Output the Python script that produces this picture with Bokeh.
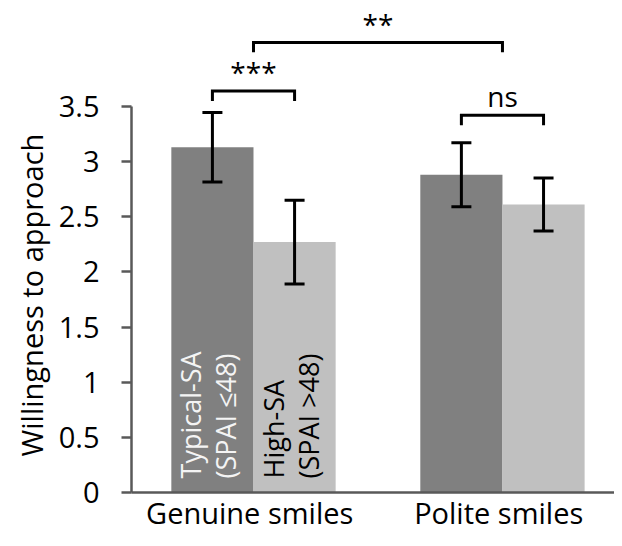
from math import pi
from bokeh.plotting import figure
from bokeh.models import (Range1d, FixedTicker, NumeralTickFormatter, ColumnDataSource,
                          Whisker, TeeHead, Title)
from bokeh.core.properties import value
from bokeh.embed import file_html
from bokeh.resources import INLINE

# ---------------- data ----------------
groups = ["Genuine  smiles", "Polite  smiles"]
typical_means = [3.13, 2.88]
typical_err = [0.315, 0.29]
high_means = [2.27, 2.61]
high_err = [0.38, 0.24]
series_labels = ["Typical-SA\n(SPAI \u226448)", "High-SA\n(SPAI >48)"]
y_ticks = [0, 0.5, 1, 1.5, 2, 2.5, 3, 3.5]
y_title = "Willingness to approach"
sig_labels = ["***", "ns", "**"]
sig_levels = [3.64, 3.42, 4.08]

FONT = "Open Sans"
DARK = "#808080"
LIGHT = "#c0c0c0"
AXIS = "#595959"

centers = [i + 0.5 for i in range(len(groups))]
off = 0.165
bw = 0.33
x_typ = [c - off for c in centers]
x_high = [c + off for c in centers]

p = figure(width=614, height=538, output_backend="svg", toolbar_location=None,
           x_range=Range1d(0.01, 1.95), y_range=Range1d(0, 4.46),
           min_border_left=131, min_border_right=0, min_border_top=0,
           min_border_bottom=46)
p.outline_line_color = None
p.xgrid.grid_line_color = None
p.ygrid.grid_line_color = None

# bars
p.vbar(x=x_typ, top=typical_means, width=bw, fill_color=DARK, line_color=None)
p.vbar(x=x_high, top=high_means, width=bw, fill_color=LIGHT, line_color=None)

# error bars
for xs, m, e in ((x_typ, typical_means, typical_err), (x_high, high_means, high_err)):
    src = ColumnDataSource(dict(x=xs, upper=[a + b for a, b in zip(m, e)],
                                lower=[a - b for a, b in zip(m, e)]))
    w = Whisker(source=src, base="x", upper="upper", lower="lower", level="overlay",
                line_width=3, line_color="black",
                upper_head=TeeHead(size=20, line_width=3, line_color="black"),
                lower_head=TeeHead(size=20, line_width=3, line_color="black"))
    p.add_layout(w)

# in-bar labels
p.text(x=[x_typ[0] - 0.016], y=[0.127], text=[series_labels[0]], angle=pi / 2,
       text_font=value(FONT), text_font_size="27px", text_color="#f4f4f4",
       text_align="left", text_baseline="middle", text_line_height=0.95)
p.text(x=[x_high[0] - 0.016], y=[0.127], text=[series_labels[1]], angle=pi / 2,
       text_font=value(FONT), text_font_size="27px", text_color="black",
       text_align="left", text_baseline="middle", text_line_height=0.95)

# significance brackets
leg = 0.09
br_x = [(x_typ[0], x_high[0]), (x_typ[1], x_high[1]), (centers[0], centers[1])]
xs_l, ys_l, tx, ty = [], [], [], []
for (a, b), lvl in zip(br_x, sig_levels):
    xs_l.append([a, a, b, b])
    ys_l.append([lvl - leg, lvl, lvl, lvl - leg])
    tx.append((a + b) / 2)
    ty.append(lvl + 0.17)
p.multi_line(xs=xs_l, ys=ys_l, line_color="black", line_width=3, line_join="miter")
p.text(x=tx, y=ty, text=sig_labels, text_font=value(FONT), text_font_size="28px",
       text_color="black", text_align="center", text_baseline="middle")

# axes
ya = p.yaxis[0]
ya.bounds = (0, 3.5)
ya.ticker = FixedTicker(ticks=y_ticks)
ya.formatter = NumeralTickFormatter(format="0.[0]")
ya.major_label_text_font = FONT
ya.major_label_text_font_size = "29px"
ya.major_label_text_color = "black"
ya.major_label_standoff = 22
ya.axis_line_color = AXIS
ya.axis_line_width = 2.5
ya.major_tick_line_color = AXIS
ya.major_tick_line_width = 2.5
ya.major_tick_out = 10
ya.major_tick_in = 0
ya.minor_tick_line_color = None

# y-axis title on the left, anchored near the bottom so it is centred on the drawn axis
p.add_layout(Title(text=y_title, align="left", offset=36, standoff=9,
                   text_font=FONT, text_font_size="29px", text_font_style="normal",
                   text_color="black"), "left")

xa = p.xaxis[0]
xa.ticker = FixedTicker(ticks=centers)
xa.major_label_overrides = {c: g for c, g in zip(centers, groups)}
xa.major_label_text_font = FONT
xa.major_label_text_font_size = "29px"
xa.major_label_text_color = "black"
xa.major_label_standoff = 0
xa.major_tick_out = 0
xa.major_tick_in = 0
xa.axis_line_color = AXIS
xa.axis_line_width = 2.5
xa.major_tick_line_color = None
xa.minor_tick_line_color = None

open("out.html", "w").write(file_html(p, INLINE))
